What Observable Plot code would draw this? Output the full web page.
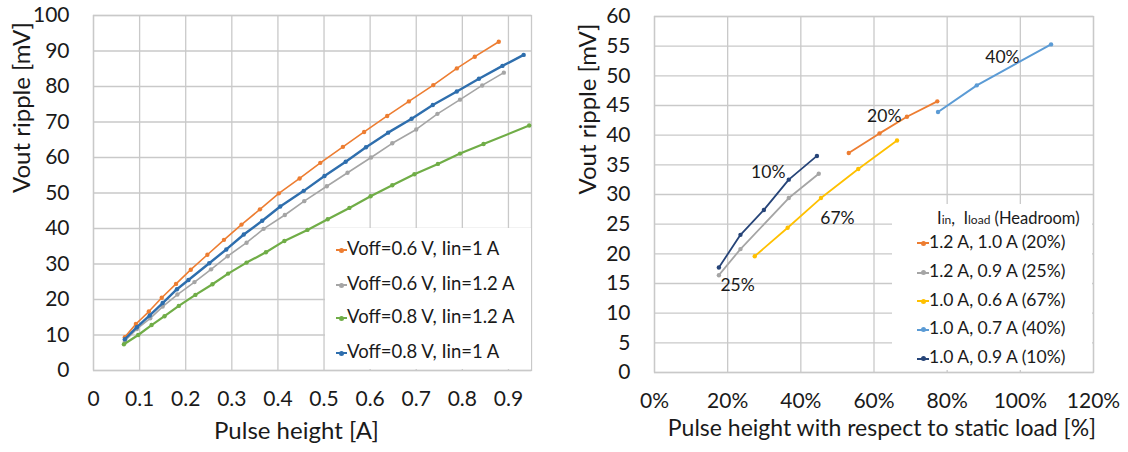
<!DOCTYPE html>
<html><head><meta charset="utf-8">
<script src="https://cdn.jsdelivr.net/npm/d3@7"></script>
<script src="https://cdn.jsdelivr.net/npm/@observablehq/plot@0.6"></script>
<style>
body{margin:0;background:#fff;font-family:Lato,sans-serif;}
#wrap{position:relative;width:1128px;height:452px;overflow:hidden;background:#fff;}
#left{position:absolute;left:0;top:0;}
#right{position:absolute;left:564px;top:0;}
.legend{position:absolute;background:#fff;color:#1a1a1a;}
.item{position:absolute;white-space:nowrap;line-height:20px;height:20px;}
.sym{display:inline-block;position:relative;vertical-align:middle;}
.sym .ln{position:absolute;left:0;right:0;top:50%;height:2px;margin-top:-1px;}
.sym .dt{position:absolute;left:50%;top:50%;width:5px;height:5px;margin:-2.5px 0 0 -2.5px;border-radius:50%;}
.sub{font-size:12px;}
</style>
</head><body>
<div id="wrap"><div id="left"></div><div id="right"></div></div>
<script>
// ---------- Left chart data ----------
const leftXTicks = [0,0.1,0.2,0.3,0.4,0.5,0.6,0.7,0.8,0.9];
const leftYTicks = [0,10,20,30,40,50,60,70,80,90,100];
const leftNames = ["Voff=0.6 V, Iin=1 A","Voff=0.6 V, Iin=1.2 A","Voff=0.8 V, Iin=1.2 A","Voff=0.8 V, Iin=1 A"];
const leftColors = ["#ED7D31","#A5A5A5","#70AD47","#2E6EAD"];
const leftWidths = [1.6,1.6,2.2,2.4];

const orangeX = [0.068,0.092,0.120,0.148,0.179,0.211,0.247,0.283,0.321,0.361,0.402,0.447,0.492,0.541,0.587,0.637,0.684,0.737,0.788,0.827,0.879];
const orangeY = [9.4,13.1,16.6,20.5,24.4,28.4,32.6,36.8,41.1,45.4,49.9,54.1,58.5,63.0,67.2,71.7,75.8,80.4,85.1,88.4,92.6];
const grayX = [0.068,0.094,0.123,0.150,0.182,0.219,0.255,0.291,0.332,0.369,0.415,0.457,0.506,0.551,0.602,0.648,0.700,0.746,0.795,0.843,0.890];
const grayY = [8.3,11.7,14.7,18.0,21.4,24.9,28.5,32.2,36.0,39.9,43.8,47.7,51.9,55.7,60.0,64.0,67.9,72.3,76.3,80.3,83.9];
const greenX = [0.066,0.097,0.126,0.154,0.185,0.221,0.258,0.292,0.332,0.374,0.414,0.464,0.508,0.555,0.601,0.648,0.696,0.747,0.795,0.846,0.945];
const greenY = [7.4,10.0,12.8,15.3,18.2,21.3,24.3,27.3,30.4,33.3,36.5,39.6,42.6,45.8,49.1,52.2,55.3,58.2,61.1,63.8,69.0];
const blueX = [0.068,0.094,0.122,0.150,0.181,0.206,0.251,0.288,0.326,0.366,0.405,0.456,0.501,0.547,0.591,0.639,0.690,0.736,0.788,0.836,0.887,0.933];
const blueY = [8.8,12.2,15.5,19.0,22.9,25.5,30.2,34.1,38.3,42.2,46.2,50.6,54.8,58.8,62.9,67.0,70.9,74.8,78.6,82.2,85.8,88.9];

// ---------- Right chart data ----------
const rightXTicks = [0,20,40,60,80,100,120];
const rightYTicks = [0,5,10,15,20,25,30,35,40,45,50,55,60];
const rightNames = ["1.2 A, 1.0 A (20%)","1.2 A, 0.9 A (25%)","1.0 A, 0.6 A (67%)","1.0 A, 0.7 A (40%)","1.0 A, 0.9 A (10%)"];
const rightColors = ["#ED7D31","#A5A5A5","#FFC000","#5B9BD5","#264478"];
const s20X = [53.1,61.5,69.0,77.3], s20Y = [37.0,40.3,43.1,45.7];
const s25X = [17.6,23.5,36.7,44.9], s25Y = [16.4,20.8,29.4,33.5];
const s67X = [27.4,36.4,45.5,55.7,66.3], s67Y = [19.6,24.4,29.4,34.3,39.1];
const s40X = [77.5,88.1,108.4], s40Y = [43.9,48.4,55.3];
const s10X = [17.6,23.5,29.9,36.7,44.4], s10Y = [17.7,23.2,27.4,32.5,36.5];
const annText = ["10%","20%","40%","25%","67%"];
const annX = [31.1,62.8,95.1,22.7,50.0];
const annY = [33.7,43.1,53.1,14.6,25.9];

const toRows = (xs, ys, s) => xs.map((x,i)=>({x, y: ys[i], s}));
const leftData = [
  ...toRows(orangeX, orangeY, 0), ...toRows(grayX, grayY, 1),
  ...toRows(greenX, greenY, 2), ...toRows(blueX, blueY, 3)];
const rightData = [
  ...toRows(s20X, s20Y, 0), ...toRows(s25X, s25Y, 1), ...toRows(s67X, s67Y, 2),
  ...toRows(s40X, s40Y, 3), ...toRows(s10X, s10Y, 4)];
const annData = annText.map((t,i)=>({t, x: annX[i], y: annY[i]}));

const gridStyle = {stroke:"#c9c9c9", strokeOpacity:1, strokeWidth:1.3};
const txt = "#1a1a1a";

function seriesMarks(data, colors, widths, n) {
  const marks = [];
  for (let s = 0; s < n; s++) {
    const d = data.filter(r => r.s === s);
    marks.push(Plot.line(d, {x:"x", y:"y", stroke: colors[s], strokeWidth: widths[s]}));
    marks.push(Plot.dot(d, {x:"x", y:"y", fill: colors[s], r: 2.2, stroke: "none"}));
  }
  return marks;
}

const left = Plot.plot({
  width: 560, height: 452,
  marginLeft: 93, marginRight: 29, marginTop: 15, marginBottom: 82,
  x: {domain:[0,0.95]},
  y: {domain:[0,100]},
  style: {fontFamily:"Lato, sans-serif", fontSize:"21px", color: txt, background:"#fff", overflow:"visible"},
  marks: [
    Plot.gridX(leftXTicks, gridStyle),
    Plot.gridY(leftYTicks, gridStyle),
    Plot.frame({stroke:"#c9c9c9", strokeWidth:1.3}),
    Plot.axisX(leftXTicks, {tickSize:0, tickPadding:21, label:null, tickFormat: d => String(d), fontSize:21}),
    Plot.axisY(leftYTicks, {tickSize:0, tickPadding:24, label:null, fontSize:21}),
    ...seriesMarks(leftData, leftColors, leftWidths, 4),
    Plot.text(["Pulse height [A]"], {frameAnchor:"bottom", dy:68, dx:-16, fontSize:24, fill: txt}),
    Plot.text(["Vout ripple [mV]"], {frameAnchor:"left", rotate:-90, dx:-71, fontSize:24, fill: txt})
  ]
});
document.getElementById("left").appendChild(left);

const right = Plot.plot({
  width: 564, height: 452,
  marginLeft: 90, marginRight: 35, marginTop: 16, marginBottom: 80,
  x: {domain:[0,120]},
  y: {domain:[0,60]},
  style: {fontFamily:"Lato, sans-serif", fontSize:"21px", color: txt, background:"#fff", overflow:"visible"},
  marks: [
    Plot.gridX(rightXTicks, gridStyle),
    Plot.gridY(rightYTicks, gridStyle),
    Plot.frame({stroke:"#c9c9c9", strokeWidth:1.3}),
    Plot.axisX(rightXTicks, {tickSize:0, tickPadding:21, label:null, tickFormat: d => d + "%", fontSize:21}),
    Plot.axisY(rightYTicks, {tickSize:0, tickPadding:24, label:null, fontSize:21}),
    ...seriesMarks(rightData, rightColors, [1.8,1.8,1.8,2.0,1.8], 5),
    Plot.text(annData, {x:"x", y:"y", text:"t", fontSize:17.5, fill: txt}),
    Plot.text(["Pulse height with respect to static load [%]"], {frameAnchor:"bottom", dy:63, dx:8, fontSize:23, fill: txt}),
    Plot.text(["Vout ripple [mV]"], {frameAnchor:"left", rotate:-90, dx:-66, fontSize:24, fill: txt})
  ]
});
document.getElementById("right").appendChild(right);

// ---------- Legends ----------
function symbol(color, w) {
  return `<span class="sym" style="width:${w}px;height:20px;"><span class="ln" style="background:${color}"></span><span class="dt" style="background:${color}"></span></span>`;
}
function legend(box, names, colors, rowTops, symW, titleHtml, titleTop) {
  const div = document.createElement("div");
  div.className = "legend";
  Object.assign(div.style, box);
  let html = "";
  if (titleHtml) html += `<div class="item" style="top:${titleTop}px;left:${box.titleLeft};font-size:16.5px">${titleHtml}</div>`;
  names.forEach((n,i) => {
    html += `<div class="item" style="top:${rowTops[i]}px;left:${box.itemLeft}">${symbol(colors[i], symW)}${n}</div>`;
  });
  div.innerHTML = html;
  document.getElementById("wrap").appendChild(div);
}
legend({left:"325px", top:"228px", width:"206px", height:"141px", itemLeft:"11px", fontSize:"18.5px"},
  leftNames, leftColors, [10,45,78,113], 11);
legend({left:"892px", top:"204px", width:"200px", height:"166px", itemLeft:"25px", titleLeft:"45px", fontSize:"17.5px"},
  rightNames, rightColors, [27.7,57,85.7,114.3,143], 12,
  `I<span class="sub">in</span>,&nbsp; I<span class="sub">load</span>&nbsp;(Headroom)`, 4);
</script>
</body></html>
